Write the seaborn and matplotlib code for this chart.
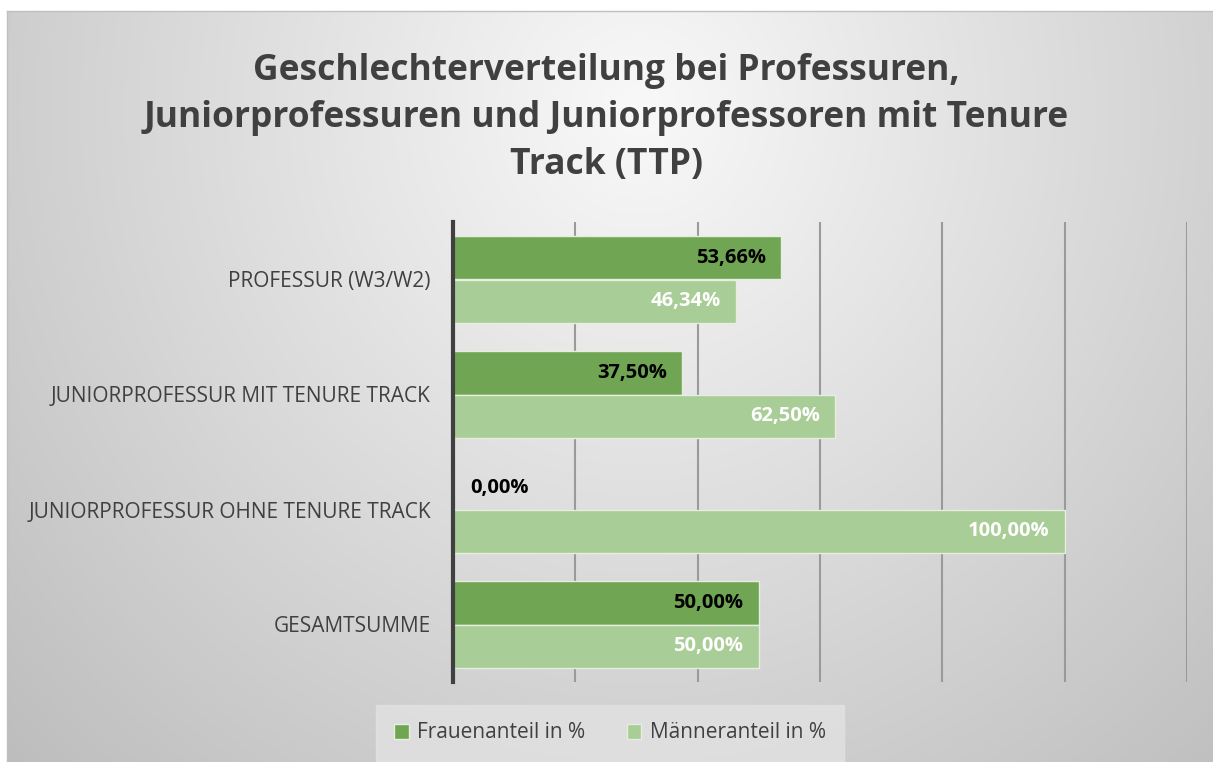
import numpy as np
import matplotlib.pyplot as plt
import pandas as pd
import seaborn as sns

# Data
categories = ["PROFESSUR (W3/W2)", "JUNIORPROFESSUR MIT TENURE TRACK",
              "JUNIORPROFESSUR OHNE TENURE TRACK", "GESAMTSUMME"]
frauen = [53.66, 37.50, 0.00, 50.00]
maenner = [46.34, 62.50, 100.00, 50.00]
series_names = ["Frauenanteil in %", "Männeranteil in %"]
colors = ["#70a553", "#a9cd96"]
label_colors = ["black", "white"]

df = pd.DataFrame({
    "Kategorie": categories * 2,
    "Wert": frauen + maenner,
    "Serie": [series_names[0]] * 4 + [series_names[1]] * 4,
})

W, H, DPI = 1213, 762, 100
fig = plt.figure(figsize=(W / DPI, H / DPI), dpi=DPI)
fig.patch.set_facecolor("white")

# radial gradient background
bg = fig.add_axes([7 / W, 0, 1 - 7 / W, (H - 11) / H], zorder=-5)
xx, yy = np.meshgrid(np.linspace(7, W, 400), np.linspace(11, H, 300))
r = np.sqrt(((xx - 640) / 760) ** 2 + ((yy - 110) / 800) ** 2)
shade = 0.975 - 0.2 * np.clip(r, 0, 1.2)
bg.imshow(np.dstack([shade] * 3), aspect="auto", extent=[0, 1, 0, 1])
bg.set_xticks([])
bg.set_yticks([])
for side in ["right", "bottom"]:
    bg.spines[side].set_visible(False)
for side in ["left", "top"]:
    bg.spines[side].set_color("#c0c0c0")
    bg.spines[side].set_linewidth(1)

ax = fig.add_axes([453 / W, 1 - 682 / H, (1187 - 453) / W, (682 - 222) / H])
ax.set_facecolor("none")

sns.barplot(data=df, y="Kategorie", x="Wert", hue="Serie", orient="h",
            palette=colors, width=0.76, ax=ax, edgecolor="#e6eedf",
            linewidth=1, legend=False, zorder=3, saturation=1)

ax.set_xlim(0, 120)
ax.set_xticks(np.arange(0, 121, 20))
ax.set_xticklabels([])
ax.tick_params(axis="x", length=0)
ax.tick_params(axis="y", length=0, pad=16, labelsize=15, labelcolor="#404040")
for lbl in ax.get_yticklabels():
    lbl.set_fontfamily("Open Sans")
ax.grid(axis="x", color="#9a9a9a", linewidth=1.5, zorder=0)
ax.grid(axis="y", visible=False)
ax.set_axisbelow(True)
for side in ["top", "right", "bottom"]:
    ax.spines[side].set_visible(False)
ax.spines["left"].set_color("#404040")
ax.spines["left"].set_linewidth(3)
ax.spines["left"].set_zorder(5)
ax.set_xlabel("")
ax.set_ylabel("")

# value labels (inside end)
for container, lc in zip(ax.containers, label_colors):
    for bar in container:
        v = bar.get_width()
        yc = bar.get_y() + bar.get_height() / 2
        txt = f"{v:.2f}".replace(".", ",") + "%"
        if v == 0:
            ax.text(2.8, yc, txt, ha="left", va="center", color="black",
                    fontsize=14.5, fontweight="bold", family="Open Sans", zorder=6)
        else:
            ax.text(v - 2.5, yc, txt, ha="right", va="center", color=lc,
                    fontsize=14.5, fontweight="bold", family="Open Sans", zorder=6)

fig.text(0.5, 1 - 118 / H,
         "Geschlechterverteilung bei Professuren,\n"
         "Juniorprofessuren und Juniorprofessoren mit Tenure\n"
         "Track (TTP)",
         ha="center", va="center", fontsize=25.5, fontweight="bold",
         color="#404040", family="Open Sans", linespacing=1.4)

# legend
handles = [plt.Rectangle((0, 0), 1, 1, facecolor=c, edgecolor="#e6eedf") for c in colors]
leg = fig.legend(handles, series_names, loc="center", ncol=2,
                 bbox_to_anchor=(610 / W, 1 - 733 / H), frameon=True,
                 handlelength=0.7, handleheight=0.7,
                 handletextpad=0.4, columnspacing=2.0, borderpad=0.55,
                 prop={"family": "Open Sans", "size": 15})
leg.get_frame().set_facecolor("#e2e2e2")
leg.get_frame().set_edgecolor("#e2e2e2")
leg.get_frame().set_boxstyle("square")
for t in leg.get_texts():
    t.set_color("#404040")

fig.savefig("out.png", dpi=DPI)
